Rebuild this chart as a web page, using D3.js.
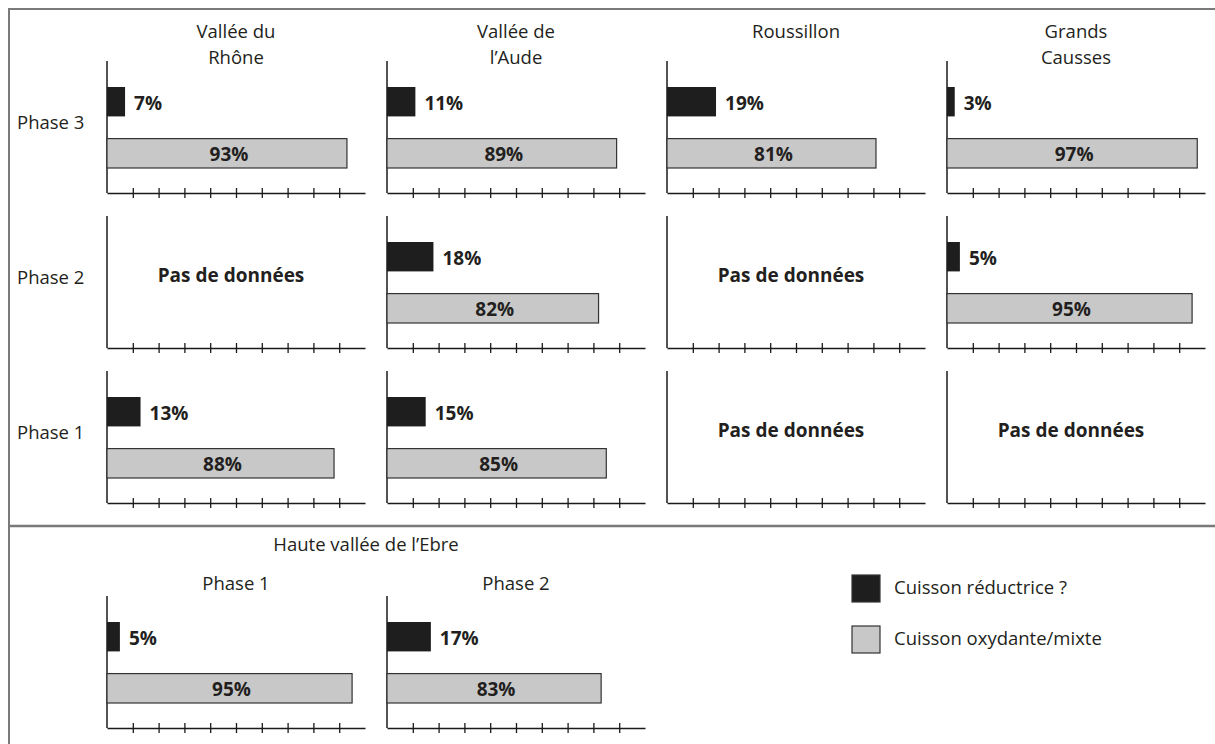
<!DOCTYPE html>
<html>
<head>
<meta charset="utf-8">
<script src="https://cdn.jsdelivr.net/npm/d3@7"></script>
<style>
  body { margin:0; background:#fff; }
  text { font-family:"Open Sans", sans-serif; fill:#231f20; }
  .lab { font-size:18.5px; }
  .val { font-size:19px; font-weight:bold; }
</style>
</head>
<body>
<div id="chart"></div>
<script>
// values (percent of sherds per firing type)
const regions = ["Vallée du Rhône", "Vallée de l’Aude", "Roussillon", "Grands Causses"];
const regionLines = [["Vallée du", "Rhône"], ["Vallée de", "l’Aude"], ["Roussillon"], ["Grands", "Causses"]];
const phases = ["Phase 3", "Phase 2", "Phase 1"];
const types = ["Cuisson réductrice ?", "Cuisson oxydante/mixte"];

// rows = phases (3,2,1), cols = regions; null = no data
const reductrice = [
  [7, 11, 19, 3],
  [null, 18, null, 5],
  [13, 15, null, null]
];
const oxydante = [
  [93, 89, 81, 97],
  [null, 82, null, 95],
  [88, 85, null, null]
];

const ebreTitle = "Haute vallée de l’Ebre";
const ebrePhases = ["Phase 1", "Phase 2"];
const ebreReductrice = [5, 17];
const ebreOxydante = [95, 83];

const noData = "Pas de données";

const W = 1215, H = 744;
const svg = d3.select("#chart").append("svg").attr("width", W).attr("height", H);

// frame + divider between the two blocks
svg.append("rect").attr("x", 9).attr("y", 9).attr("width", W + 10).attr("height", H + 10)
  .attr("fill", "none").attr("stroke", "#7a7a7a").attr("stroke-width", 2);
svg.append("line").attr("x1", 9).attr("x2", W).attr("y1", 526).attr("y2", 526)
  .attr("stroke", "#7a7a7a").attr("stroke-width", 2.5);

const color = d3.scaleOrdinal().domain(types).range(["#1e1e1e", "#c8c8c8"]);

// columns and rows of small panels
const col = d3.scaleBand().domain(regions).range([107, 107 + 280 * regions.length]);
const row = d3.scalePoint().domain(phases).range([193, 503]); // y of each x-axis
const ph = 132; // panel height
const x = d3.scaleLinear().domain([0, 100]).range([0, 258]);
const yb = d3.scaleBand().domain(types).range([26, 107]).paddingInner(0.43);

function panel(px, axisY, red, oxy) {
  const g = svg.append("g").attr("transform", `translate(${px},${axisY - ph})`);

  // vertical axis
  g.append("line").attr("x1", x(0)).attr("x2", x(0)).attr("y1", 0).attr("y2", ph)
    .attr("stroke", "#1a1a1a").attr("stroke-width", 1.5);

  // horizontal axis, ticks every 10% crossing the line
  const ax = g.append("g").attr("transform", `translate(0,${ph})`)
    .call(d3.axisBottom(x).tickValues(d3.range(10, 100, 10)).tickFormat("").tickSizeOuter(0).tickSizeInner(10));
  ax.select(".domain").attr("stroke", "#1a1a1a").attr("stroke-width", 1.5);
  ax.selectAll(".tick line").attr("y1", -5).attr("y2", 5).attr("stroke", "#1a1a1a").attr("stroke-width", 1.3);

  if (red == null) {
    g.append("text").attr("class", "val")
      .attr("x", x(50) - 5).attr("y", 59).attr("dy", "0.35em")
      .attr("text-anchor", "middle").text(noData);
    return;
  }

  const rows = [{ t: types[0], v: red }, { t: types[1], v: oxy }];
  g.selectAll("rect.bar").data(rows).enter().append("rect")
    .attr("class", "bar")
    .attr("x", x(0))
    .attr("y", d => yb(d.t))
    .attr("width", d => x(d.v) - x(0))
    .attr("height", yb.bandwidth())
    .attr("fill", d => color(d.t))
    .attr("stroke", "#333").attr("stroke-width", d => d.t === types[1] ? 1.2 : 0);

  // black bar: label just right of the bar; grey bar: centred inside
  g.append("text").attr("class", "val")
    .attr("x", x(red) + 9).attr("y", yb(types[0]) + yb.bandwidth() / 2 + 2).attr("dy", "0.35em")
    .text(red + "%");
  g.append("text").attr("class", "val")
    .attr("x", x(oxy) / 2 + 2).attr("y", yb(types[1]) + yb.bandwidth() / 2 + 1).attr("dy", "0.35em")
    .attr("text-anchor", "middle").text(oxy + "%");
}

// region headers
regions.forEach((r, i) => {
  const t = svg.append("text").attr("class", "lab").attr("text-anchor", "middle")
    .attr("x", col(r) + x(50)).attr("y", 32);
  regionLines[i].forEach((ln, j) => {
    t.append("tspan").attr("x", col(r) + x(50)).attr("dy", j === 0 ? "0.35em" : "26px").text(ln);
  });
});

// phase labels on the left
phases.forEach(p => {
  svg.append("text").attr("class", "lab").attr("x", 17).attr("y", row(p) - 70).attr("dy", "0.35em").text(p);
});

phases.forEach((p, i) => {
  regions.forEach((r, j) => panel(col(r), row(p), reductrice[i][j], oxydante[i][j]));
});

// lower block: Ebre
const ebreCol = d3.scaleBand().domain(ebrePhases).range([107, 107 + 280 * ebrePhases.length]);
const ebreAxisY = 728;
svg.append("text").attr("class", "lab").attr("text-anchor", "middle")
  .attr("x", (ebreCol(ebrePhases[0]) + ebreCol(ebrePhases[1])) / 2 + x(50) - 10)
  .attr("y", 545).attr("dy", "0.35em").text(ebreTitle);
ebrePhases.forEach((p, i) => {
  svg.append("text").attr("class", "lab").attr("text-anchor", "middle")
    .attr("x", ebreCol(p) + x(50)).attr("y", 584).attr("dy", "0.35em").text(p);
  panel(ebreCol(p), ebreAxisY, ebreReductrice[i], ebreOxydante[i]);
});

// legend
const lg = svg.append("g").attr("transform", "translate(852,575)");
lg.selectAll("rect").data(types).enter().append("rect")
  .attr("x", 0).attr("y", (d, i) => i * 51)
  .attr("width", 28).attr("height", 27)
  .attr("fill", d => color(d)).attr("stroke", "#333").attr("stroke-width", 1.2);
lg.selectAll("text").data(types).enter().append("text")
  .attr("class", "lab")
  .attr("x", 42).attr("y", (d, i) => i * 51 + 13).attr("dy", "0.35em")
  .text(d => d);
</script>
</body>
</html>
